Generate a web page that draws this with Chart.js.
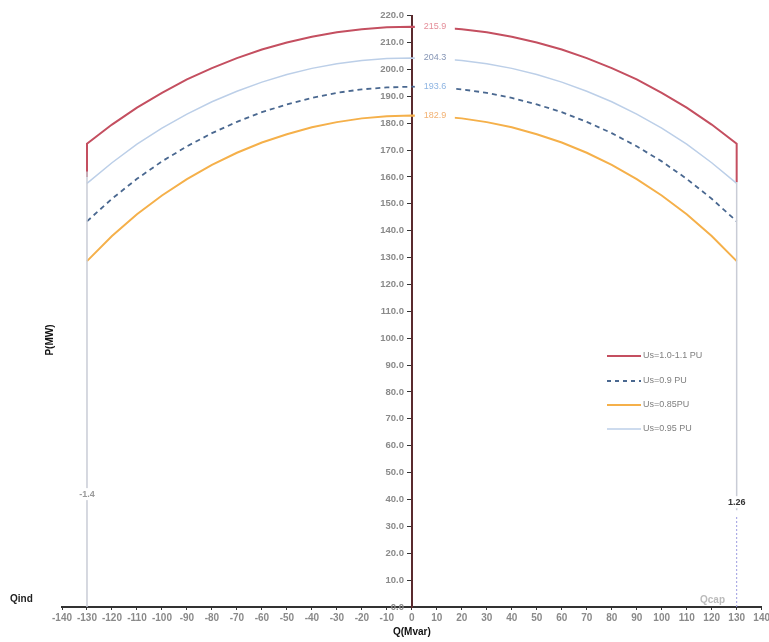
<!DOCTYPE html>
<html>
<head>
<meta charset="utf-8">
<script src="https://cdn.jsdelivr.net/npm/chart.js@4"></script>
<style>
html,body{margin:0;padding:0;background:#fff;overflow:hidden;}
#wrap{width:769px;height:642px;position:relative;overflow:hidden;}
</style>
</head>
<body>
<div id="wrap"><canvas id="c" width="772" height="642"></canvas></div>
<script>
// Q (Mvar) points along each curve
const qVals=[-130,-120,-110,-100,-90,-80,-70,-60,-50,-40,-30,-20,-10,0,10,20,30,40,50,60,70,80,90,100,110,120,130];

// P (MW)
const pU100=[172.4,179.5,185.8,191.3,196.3,200.5,204.2,207.4,210.0,212.2,213.8,215.0,215.7,215.9,215.7,215.0,213.8,212.2,210.0,207.4,204.2,200.5,196.3,191.3,185.8,179.5,172.4];
const pU095=[157.6,165.3,172.2,178.2,183.4,188.0,191.9,195.3,198.1,200.4,202.1,203.3,204.1,204.3,204.1,203.3,202.1,200.4,198.1,195.3,191.9,188.0,183.4,178.2,172.2,165.3,157.6];
const pU090=[143.5,151.9,159.3,165.8,171.4,176.3,180.5,184.1,187.0,189.4,191.3,192.6,193.3,193.6,193.3,192.6,191.3,189.4,187.0,184.1,180.5,176.3,171.4,165.8,159.3,151.9,143.5];
const pU085=[128.7,138.0,146.1,153.1,159.2,164.5,169.0,172.8,175.9,178.5,180.4,181.8,182.6,182.9,182.6,181.8,180.4,178.5,175.9,172.8,169.0,164.5,159.2,153.1,146.1,138.0,128.7];

const seriesNames=['Us=1.0-1.1 PU','Us=0.9 PU','Us=0.85PU','Us=0.95 PU'];
const peakLabels=['215.9','204.3','193.6','182.9'];
const edgeQ=[-130,130];
const edgeLabels=['-1.4','1.26'];
const edgeLabelP=[42,39];
const xTicks=[-140,-130,-120,-110,-100,-90,-80,-70,-60,-50,-40,-30,-20,-10,0,10,20,30,40,50,60,70,80,90,100,110,120,130,140];

const pts=(ys)=>qVals.map((q,i)=>({x:q,y:ys[i]}));

const red='#c44f60', lblue='#bccfe8', dash='#4a6890', orange='#f5b04a', edge='#c9ccd6';

const redPts=[{x:-130,y:160}].concat(pts(pU100),[{x:130,y:158}]);

const labelsPlugin={
  id:'labelsPlugin',
  afterDatasetsDraw(chart){
    const {ctx,scales:{x,y}}=chart;
    ctx.save();
    // peak value labels at Q=0
    const peaks=[pU100[13],pU095[13],pU090[13],pU085[13]];
    const cols=['#e48d98','#8595b5','#8db4e2','#f2b070'];
    ctx.font='9px "Liberation Sans", Arial';
    ctx.textBaseline='middle';
    peaks.forEach((p,i)=>{
      const px=x.getPixelForValue(0), py=y.getPixelForValue(p);
      ctx.fillStyle='#fff';
      ctx.fillRect(px+3,py-6,40,12);
      ctx.fillStyle=cols[i];
      ctx.textAlign='left';
      ctx.fillText(peakLabels[i],px+12,py);
    });
    // edge labels
    ctx.font='bold 9px "Liberation Sans", Arial';
    edgeQ.forEach((q,i)=>{
      const px=x.getPixelForValue(q), py=y.getPixelForValue(edgeLabelP[i]);
      ctx.fillStyle='#fff';
      ctx.fillRect(px-12,py-6,24,12);
      ctx.fillStyle=i===0?'#999':'#333';
      ctx.textAlign='center';
      ctx.fillText(edgeLabels[i],px,py);
    });
    // Qind / Qcap
    const y0=y.getPixelForValue(0);
    ctx.font='bold 10px "Liberation Sans", Arial';
    ctx.fillStyle='#222';
    ctx.textAlign='left';
    ctx.fillText('Qind',10,y0-8);
    ctx.fillStyle='#bbb';
    ctx.fillText('Qcap',700,y0-7);
    // y title
    ctx.save();
    ctx.translate(50,340);
    ctx.rotate(-Math.PI/2);
    ctx.fillStyle='#111';
    ctx.textAlign='center';
    ctx.fillText('P(MW)',0,0);
    ctx.restore();
    // legend
    const lx=607, ly=[356,381,405,429];
    const styles=[[red,[],2],[dash,[4,4],2],[orange,[],2],[lblue,[],1.5]];
    ctx.font='9px "Liberation Sans", Arial';
    styles.forEach(([c,d,w],k)=>{
      ctx.strokeStyle=c;ctx.lineWidth=w;ctx.setLineDash(d);
      ctx.beginPath();ctx.moveTo(lx,ly[k]);ctx.lineTo(lx+34,ly[k]);ctx.stroke();
      ctx.setLineDash([]);
      ctx.fillStyle='#7f7f7f';
      ctx.textAlign='left';
      ctx.fillText(seriesNames[k],lx+36,ly[k]);
    });
    ctx.restore();
  }
};

new Chart(document.getElementById('c'),{
  type:'scatter',
  data:{datasets:[
    {label:'edgeL',data:[{x:-130,y:0},{x:-130,y:162}],borderColor:edge,borderWidth:1.5,showLine:true,pointRadius:0},
    {label:'edgeR',data:[{x:130,y:36},{x:130,y:158}],borderColor:edge,borderWidth:1.5,showLine:true,pointRadius:0},
    {label:'edgeR2',data:[{x:130,y:0},{x:130,y:34}],borderColor:'#9c9ce0',borderWidth:1,borderDash:[2,2],showLine:true,pointRadius:0},
    {label:seriesNames[3],data:pts(pU095),borderColor:lblue,borderWidth:1.5,showLine:true,pointRadius:0},
    {label:seriesNames[2],data:pts(pU085),borderColor:orange,borderWidth:2,showLine:true,pointRadius:0},
    {label:seriesNames[1],data:pts(pU090),borderColor:dash,borderWidth:1.8,borderDash:[5,4],showLine:true,pointRadius:0},
    {label:seriesNames[0],data:redPts,borderColor:red,borderWidth:2,showLine:true,pointRadius:0}
  ]},
  options:{
    responsive:false,
    animation:false,
    layout:{padding:{left:62,right:0,top:10,bottom:4}},
    plugins:{legend:{display:false},tooltip:{enabled:false}},
    scales:{
      x:{
        type:'linear',min:-140,max:140,
        afterBuildTicks:(s)=>{s.ticks=xTicks.map(v=>({value:v}));},
        ticks:{color:'#8a8a8a',font:{size:10,weight:'bold',family:'"Liberation Sans", Arial'},autoSkip:false,maxRotation:0,padding:2},
        grid:{display:true,drawOnChartArea:false,drawTicks:true,tickLength:3,color:'#333'},
        border:{color:'#333',width:2},
        title:{display:true,text:'Q(Mvar)',color:'#111',font:{size:10,weight:'bold',family:'"Liberation Sans", Arial'},padding:{top:0,bottom:0}}
      },
      y:{
        type:'linear',min:0,max:220,position:{x:0},
        ticks:{stepSize:10,color:'#8a8a8a',font:{size:9.5,weight:'bold',family:'"Liberation Sans", Arial'},callback:v=>v.toFixed(1)+'   ',padding:10},
        grid:{display:true,drawOnChartArea:false,drawTicks:true,tickLength:4,color:'#333'},
        border:{color:'#5a2a2e',width:2}
      }
    }
  },
  plugins:[labelsPlugin]
});
</script>
</body>
</html>
